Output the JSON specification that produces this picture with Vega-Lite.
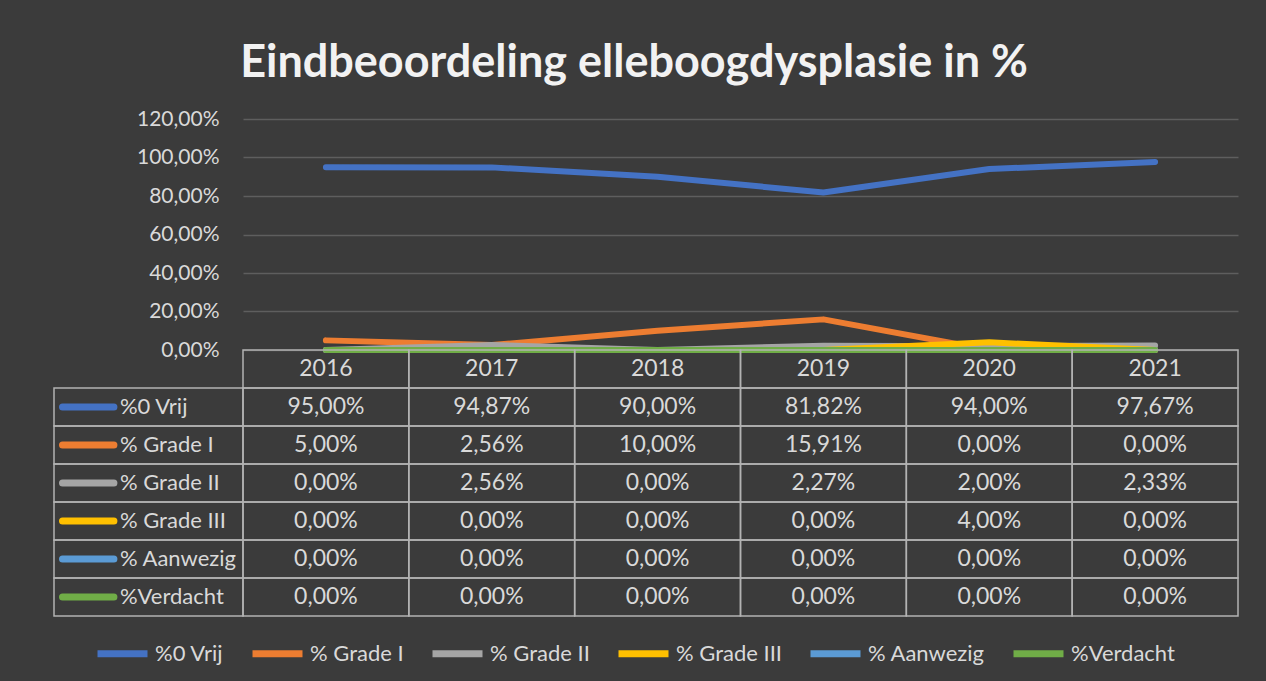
{
  "$schema": "https://vega.github.io/schema/vega-lite/v6.json",
  "background": "#3b3b3b",
  "padding": {"left": 53, "right": 27, "top": 41, "bottom": 16},
  "title": {
    "text": "Eindbeoordeling elleboogdysplasie in %",
    "font": "Lato",
    "fontSize": 45,
    "fontWeight": "bold",
    "color": "#f2f2f2",
    "anchor": "middle",
    "offset": 22,
    "dx": -12
  },
  "datasets": {
    "values": [
      {"year": "2016", "series": "%0 Vrij", "pct": 0.95},
      {"year": "2017", "series": "%0 Vrij", "pct": 0.9487},
      {"year": "2018", "series": "%0 Vrij", "pct": 0.90},
      {"year": "2019", "series": "%0 Vrij", "pct": 0.8182},
      {"year": "2020", "series": "%0 Vrij", "pct": 0.94},
      {"year": "2021", "series": "%0 Vrij", "pct": 0.9767},
      {"year": "2016", "series": "% Grade I", "pct": 0.05},
      {"year": "2017", "series": "% Grade I", "pct": 0.0256},
      {"year": "2018", "series": "% Grade I", "pct": 0.10},
      {"year": "2019", "series": "% Grade I", "pct": 0.1591},
      {"year": "2020", "series": "% Grade I", "pct": 0},
      {"year": "2021", "series": "% Grade I", "pct": 0},
      {"year": "2016", "series": "% Grade II", "pct": 0},
      {"year": "2017", "series": "% Grade II", "pct": 0.0256},
      {"year": "2018", "series": "% Grade II", "pct": 0},
      {"year": "2019", "series": "% Grade II", "pct": 0.0227},
      {"year": "2020", "series": "% Grade II", "pct": 0.02},
      {"year": "2021", "series": "% Grade II", "pct": 0.0233},
      {"year": "2016", "series": "% Grade III", "pct": 0},
      {"year": "2017", "series": "% Grade III", "pct": 0},
      {"year": "2018", "series": "% Grade III", "pct": 0},
      {"year": "2019", "series": "% Grade III", "pct": 0},
      {"year": "2020", "series": "% Grade III", "pct": 0.04},
      {"year": "2021", "series": "% Grade III", "pct": 0},
      {"year": "2016", "series": "% Aanwezig", "pct": 0},
      {"year": "2017", "series": "% Aanwezig", "pct": 0},
      {"year": "2018", "series": "% Aanwezig", "pct": 0},
      {"year": "2019", "series": "% Aanwezig", "pct": 0},
      {"year": "2020", "series": "% Aanwezig", "pct": 0},
      {"year": "2021", "series": "% Aanwezig", "pct": 0},
      {"year": "2016", "series": "%Verdacht", "pct": 0},
      {"year": "2017", "series": "%Verdacht", "pct": 0},
      {"year": "2018", "series": "%Verdacht", "pct": 0},
      {"year": "2019", "series": "%Verdacht", "pct": 0},
      {"year": "2020", "series": "%Verdacht", "pct": 0},
      {"year": "2021", "series": "%Verdacht", "pct": 0}
    ],
    "years": [
      {"year": "2016"}, {"year": "2017"}, {"year": "2018"},
      {"year": "2019"}, {"year": "2020"}, {"year": "2021"}
    ],
    "series": [
      {"series": "%0 Vrij"}, {"series": "% Grade I"}, {"series": "% Grade II"},
      {"series": "% Grade III"}, {"series": "% Aanwezig"}, {"series": "%Verdacht"}
    ]
  },
  "columns": 2,
  "spacing": 0,
  "bounds": "flush",
  "concat": [
    {
      "width": 189,
      "height": 231,
      "data": {"name": "series"},
      "mark": {"type": "text", "text": ""}
    },
    {
      "width": 995,
      "height": 231,
      "data": {"name": "values"},
      "mark": {"type": "line", "strokeWidth": 6, "strokeCap": "round", "strokeJoin": "round"},
      "encoding": {
        "x": {
          "field": "year", "type": "nominal", "sort": null,
          "scale": {"type": "point", "padding": 0.5},
          "axis": null
        },
        "y": {
          "field": "pct", "type": "quantitative",
          "scale": {"domain": [0, 1.2], "nice": false},
          "axis": {
            "values": [0, 0.2, 0.4, 0.6, 0.8, 1.0, 1.2],
            "format": ".2%",
            "title": null,
            "domain": false,
            "ticks": false,
            "labelPadding": 24,
            "labelFontSize": 21,
            "gridColor": "#5e5e5e",
            "gridWidth": 1.5
          }
        },
        "color": {
          "field": "series", "type": "nominal", "sort": null,
          "scale": {
            "domain": ["%0 Vrij", "% Grade I", "% Grade II", "% Grade III", "% Aanwezig", "%Verdacht"],
            "range": ["#4472C4", "#ED7D31", "#A5A5A5", "#FFC000", "#5B9BD5", "#70AD47"]
          },
          "legend": {
            "orient": "none",
            "legendX": 40,
            "legendY": 506,
            "direction": "horizontal",
            "columns": 6,
            "title": null,
            "symbolType": "stroke",
            "symbolSize": 2500,
            "symbolStrokeWidth": 7,
            "labelFontSize": 22,
            "labelColor": "#d9d9d9",
            "labelFont": "Lato",
            "labelOffset": 4,
            "columnPadding": 14
          }
        }
      }
    },
    {
      "width": 189,
      "height": 266,
      "data": {"name": "series"},
      "encoding": {
        "y": {
          "field": "series", "type": "nominal",
          "scale": {
            "domain": ["header", "%0 Vrij", "% Grade I", "% Grade II", "% Grade III", "% Aanwezig", "%Verdacht"],
            "paddingInner": 0, "paddingOuter": 0
          },
          "axis": null
        }
      },
      "layer": [
        {
          "mark": {"type": "rect", "filled": false, "stroke": "#b3b3b3", "strokeWidth": 1.5},
          "encoding": {
            "x": {"datum": 0, "type": "quantitative", "scale": {"domain": [0, 1]}, "axis": null},
            "x2": {"datum": 1}
          }
        },
        {
          "mark": {"type": "rule", "strokeWidth": 7, "strokeCap": "round"},
          "encoding": {
            "x": {"datum": 0.045, "type": "quantitative"},
            "x2": {"datum": 0.317},
            "color": {"field": "series", "type": "nominal", "sort": null}
          }
        },
        {
          "mark": {"type": "text", "align": "left", "baseline": "middle", "fontSize": 22, "font": "Lato", "color": "#d9d9d9"},
          "encoding": {
            "x": {"datum": 0.349, "type": "quantitative"},
            "text": {"field": "series"}
          }
        }
      ]
    },
    {
      "width": 995,
      "height": 266,
      "encoding": {
        "x": {
          "field": "year", "type": "nominal",
          "scale": {"type": "band", "domain": ["2016", "2017", "2018", "2019", "2020", "2021"], "paddingInner": 0, "paddingOuter": 0},
          "axis": null
        }
      },
      "layer": [
        {
          "data": {"name": "values"},
          "mark": {"type": "rect", "filled": false, "stroke": "#b3b3b3", "strokeWidth": 1.5},
          "encoding": {
            "y": {
              "field": "series", "type": "nominal",
              "scale": {
                "domain": ["header", "%0 Vrij", "% Grade I", "% Grade II", "% Grade III", "% Aanwezig", "%Verdacht"],
                "paddingInner": 0, "paddingOuter": 0
              },
              "axis": null
            }
          }
        },
        {
          "data": {"name": "years"},
          "mark": {"type": "rect", "filled": false, "stroke": "#b3b3b3", "strokeWidth": 1.5},
          "encoding": {
            "y": {"datum": "header", "type": "nominal"}
          }
        },
        {
          "data": {"name": "values"},
          "mark": {"type": "text", "baseline": "middle", "fontSize": 23, "font": "Lato", "color": "#d9d9d9"},
          "encoding": {
            "y": {"field": "series", "type": "nominal"},
            "text": {"field": "pct", "type": "quantitative", "format": ".2%"}
          }
        },
        {
          "data": {"name": "years"},
          "mark": {"type": "text", "baseline": "middle", "fontSize": 23, "font": "Lato", "color": "#d9d9d9"},
          "encoding": {
            "y": {"datum": "header", "type": "nominal"},
            "text": {"field": "year"}
          }
        }
      ]
    }
  ],
  "config": {
    "locale": {"number": {"decimal": ",", "thousands": ".", "grouping": [3], "currency": ["€", ""]}},
    "view": {"stroke": null},
    "font": "Lato",
    "axis": {"labelFont": "Lato", "labelColor": "#d9d9d9"}
  }
}
